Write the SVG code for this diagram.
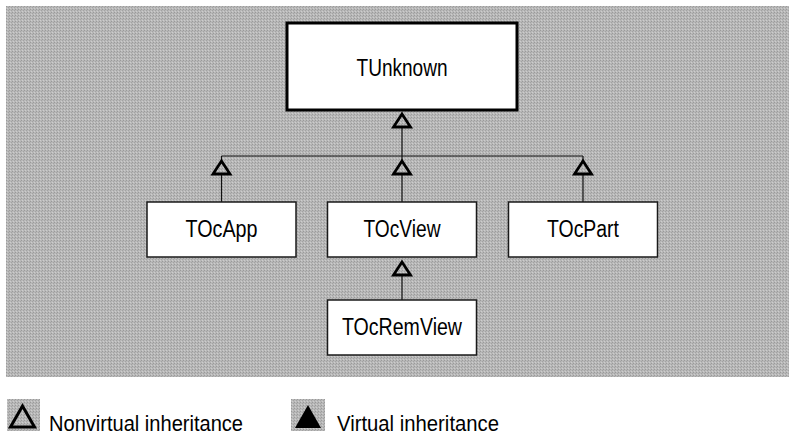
<svg xmlns="http://www.w3.org/2000/svg" width="789" height="436" viewBox="0 0 789 436">
<defs>
<pattern id="ht" width="3" height="3" patternUnits="userSpaceOnUse">
<rect width="3" height="3" fill="#b8b8b8"/>
<rect x="0" y="0" width="1" height="1" fill="#9a9a9a"/>
<rect x="2" y="1" width="1" height="1" fill="#a3a3a3"/>
<rect x="1" y="2" width="1" height="1" fill="#cdcdcd"/>
</pattern>
<style>
.box{fill:#fff;stroke:#1a1a1a;stroke-width:1.5}
.top{fill:#fff;stroke:#000;stroke-width:3}
.lbl{font-family:"Liberation Sans","Arial",sans-serif;font-size:23px;fill:#000;text-anchor:middle}
.leg{font-family:"Liberation Sans","Arial",sans-serif;font-size:22px;fill:#000}
.ln{stroke:#111;stroke-width:1.2;fill:none}
.tri{fill:url(#ht);stroke:#000;stroke-width:2.8;stroke-linejoin:miter}
</style>
</defs>
<rect width="789" height="436" fill="#fff"/>
<rect x="6" y="6" width="783" height="371" fill="url(#ht)"/>

<g id="connectors">
<line class="ln" x1="402" y1="127" x2="402" y2="156"/>
<line class="ln" x1="221.5" y1="156" x2="583" y2="156"/>
<line class="ln" x1="221.5" y1="156" x2="221.5" y2="160"/>
<line class="ln" x1="402" y1="156" x2="402" y2="160"/>
<line class="ln" x1="583" y1="156" x2="583" y2="160"/>
<line class="ln" x1="221.5" y1="174" x2="221.5" y2="202"/>
<line class="ln" x1="402" y1="174" x2="402" y2="202"/>
<line class="ln" x1="583" y1="174" x2="583" y2="202"/>
<line class="ln" x1="402" y1="275" x2="402" y2="300"/>
<polygon class="tri" points="402,114 393.5,127 410.5,127"/>
<polygon class="tri" points="221.5,161 213,174 230,174"/>
<polygon class="tri" points="402,161 393.5,174 410.5,174"/>
<polygon class="tri" points="583,161 574.5,174 591.5,174"/>
<polygon class="tri" points="402,262 393.5,275 410.5,275"/>
</g>

<g id="TUnknown">
<rect class="top" x="287" y="23" width="230" height="87"/>
<text class="lbl" x="402" y="76" textLength="91" lengthAdjust="spacingAndGlyphs">TUnknown</text>
</g>
<g id="TOcApp">
<rect class="box" x="147" y="202" width="149" height="55"/>
<text class="lbl" x="221.5" y="237" textLength="72" lengthAdjust="spacingAndGlyphs">TOcApp</text>
</g>
<g id="TOcView">
<rect class="box" x="327.5" y="202" width="149" height="55"/>
<text class="lbl" x="402" y="237" textLength="77" lengthAdjust="spacingAndGlyphs">TOcView</text>
</g>
<g id="TOcPart">
<rect class="box" x="508.5" y="202" width="149" height="55"/>
<text class="lbl" x="583" y="237" textLength="72" lengthAdjust="spacingAndGlyphs">TOcPart</text>
</g>
<g id="TOcRemView">
<rect class="box" x="327.5" y="300" width="149" height="55"/>
<text class="lbl" x="402" y="335" textLength="120" lengthAdjust="spacingAndGlyphs">TOcRemView</text>
</g>

<g id="legend">
<rect x="7" y="399" width="33" height="32" fill="url(#ht)"/>
<polygon points="22.5,406 10.5,427 34.5,427" fill="url(#ht)" stroke="#000" stroke-width="3"/>
<text class="leg" x="49" y="431" textLength="194" lengthAdjust="spacingAndGlyphs">Nonvirtual  inheritance</text>
<rect x="291" y="399" width="34" height="32" fill="url(#ht)"/>
<polygon points="308,405 295,428 321,428" fill="#000"/>
<text class="leg" x="337" y="431" textLength="162" lengthAdjust="spacingAndGlyphs">Virtual  inheritance</text>
</g>
</svg>
